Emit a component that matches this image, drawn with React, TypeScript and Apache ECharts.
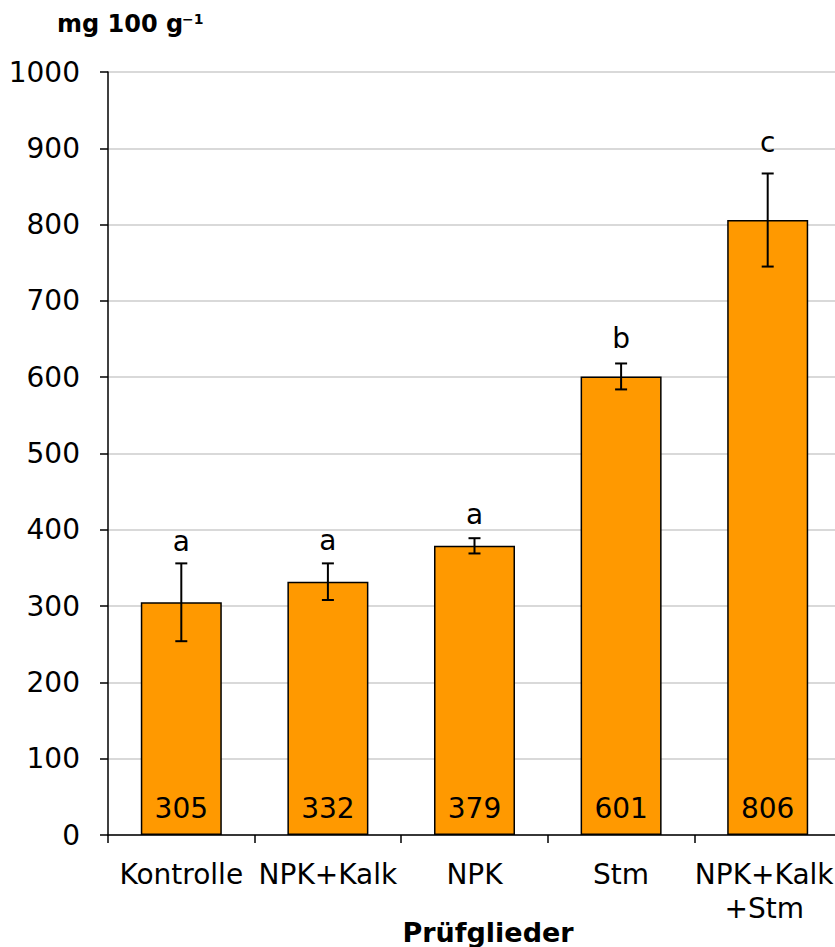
import React, { useEffect, useRef } from "react";
import * as echarts from "echarts";

// Treatments and measured means (mg 100 g^-1)
const categories = ["Kontrolle", "NPK+Kalk", "NPK", "Stm", "NPK+Kalk\n+Stm"];
const means = [305, 332, 379, 601, 806];
// Half-width of each error bar
const errors = [51, 24, 10, 17, 61];
// Significance letters
const letters = ["a", "a", "a", "b", "c"];
const yTicks = { min: 0, max: 1000, interval: 100 };

// Pixel gap between each error-bar top and its letter baseline
const LETTER_GAP = [13, 14, 15, 16, 22];
const FONT = "DejaVu Sans";
const FS = 28;

export default function App() {
  const ref = useRef<HTMLDivElement>(null);

  useEffect(() => {
    if (!ref.current) return;
    const chart = echarts.init(ref.current, null, { renderer: "svg" });

    const errData = means.map((m, i) => [i, m - errors[i], m + errors[i]]);
    // The last, widest label is nudged left so it stays inside the frame
    const axisCats = categories.map((c, i) =>
      i === categories.length - 1 ? { value: c, textStyle: { padding: [0, 7, 0, 0] } } : c
    );

    chart.setOption({
      animation: false,
      grid: { left: 108, top: 72, width: 733, height: 763 },
      xAxis: {
        type: "category",
        data: axisCats,
        boundaryGap: true,
        axisLine: { show: true, lineStyle: { color: "#000", width: 1.5 } },
        axisTick: { show: true, alignWithLabel: false, length: 8, lineStyle: { color: "#000", width: 1.5 } },
        axisLabel: {
          interval: 0,
          margin: 22,
          color: "#000",
          fontSize: FS,
          fontFamily: FONT,
          lineHeight: 34,
        },
      },
      yAxis: {
        type: "value",
        min: yTicks.min,
        max: yTicks.max,
        interval: yTicks.interval,
        axisLine: { show: true, lineStyle: { color: "#000", width: 1.5 } },
        axisTick: { show: true, length: 8, lineStyle: { color: "#000", width: 1.5 } },
        axisLabel: {
          margin: 28,
          color: "#000",
          fontSize: FS,
          fontFamily: FONT,
          formatter: (v: number) => String(v),
        },
        splitLine: { show: true, lineStyle: { color: "#d9d9d9", width: 2 } },
      },
      series: [
        {
          type: "bar",
          data: means,
          barWidth: 81,
          itemStyle: { color: "#ff9900", borderColor: "#000", borderWidth: 1.5 },
          label: {
            show: true,
            position: "insideBottom",
            distance: 13,
            color: "#000",
            fontSize: FS,
            fontFamily: FONT,
          },
          z: 2,
        },
        {
          type: "custom",
          data: errData,
          encode: { x: 0, y: [1, 2] },
          z: 3,
          renderItem: (params: any, api: any) => {
            const i = api.value(0);
            const lo = api.coord([i, api.value(1)]);
            const hi = api.coord([i, api.value(2)]);
            const cap = 6;
            const ls = { stroke: "#000", lineWidth: 2 };
            return {
              type: "group",
              children: [
                { type: "line", shape: { x1: hi[0], y1: hi[1], x2: lo[0], y2: lo[1] }, style: ls },
                { type: "line", shape: { x1: hi[0] - cap, y1: hi[1], x2: hi[0] + cap, y2: hi[1] }, style: ls },
                { type: "line", shape: { x1: lo[0] - cap, y1: lo[1], x2: lo[0] + cap, y2: lo[1] }, style: ls },
                {
                  type: "text",
                  x: hi[0],
                  y: hi[1] - LETTER_GAP[params.dataIndex] + 5,
                  style: {
                    text: letters[params.dataIndex],
                    fill: "#000",
                    fontSize: FS,
                    fontFamily: FONT,
                    align: "center",
                    verticalAlign: "bottom",
                  },
                },
              ],
            };
          },
        },
      ],
      graphic: [
        {
          type: "text",
          left: 57,
          top: 12,
          style: { text: "mg 100 g", fill: "#000", fontSize: 24, fontWeight: "bold", fontFamily: FONT },
        },
        {
          type: "text",
          left: 182,
          top: 12,
          style: { text: "−1", fill: "#000", fontSize: 14, fontWeight: "bold", fontFamily: FONT },
        },
        {
          type: "text",
          x: 488,
          y: 932,
          style: {
            text: "Prüfglieder",
            fill: "#000",
            fontSize: 27,
            fontWeight: "bold",
            fontFamily: FONT,
            align: "center",
            verticalAlign: "middle",
          },
        },
      ],
    });

    return () => chart.dispose();
  }, []);

  return (
    <div style={{ position: "fixed", left: 0, top: 0, width: 835, height: 947, overflow: "hidden", background: "#fff" }}>
      <div ref={ref} style={{ position: "absolute", left: 0, top: 0, width: 850, height: 947 }} />
    </div>
  );
}
